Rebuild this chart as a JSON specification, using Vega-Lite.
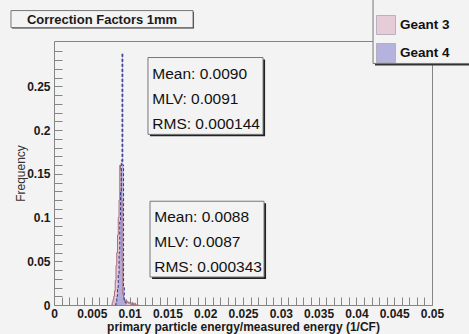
{
  "$schema": "https://vega.github.io/schema/vega-lite/v6.json",
  "width": 378,
  "height": 264,
  "autosize": {"type": "none"},
  "padding": {"left": 54, "top": 41, "right": 37, "bottom": 29},
  "background": "#f3f3f3",
  "config": {
    "font": "Liberation Sans",
    "view": {"stroke": "#858585", "strokeWidth": 1, "fill": "#f3f3f3"},
    "axis": {
      "grid": false,
      "domain": false,
      "ticks": true,
      "tickColor": "#858585",
      "tickWidth": 1,
      "labelFont": "Liberation Sans",
      "labelFontWeight": "bold",
      "labelFontSize": 12,
      "labelColor": "#1a1a1a",
      "labelFlush": false,
      "labelOverlap": false,
      "titleFont": "Liberation Sans",
      "titleColor": "#1a1a1a"
    }
  },
  "datasets": {
    "hist": [
      {"sim": "Geant 3", "lo": 0.0076, "f": 0},
      {"sim": "Geant 3", "lo": 0.0077, "f": 0.003},
      {"sim": "Geant 3", "lo": 0.0078, "f": 0.006},
      {"sim": "Geant 3", "lo": 0.0079, "f": 0.010},
      {"sim": "Geant 3", "lo": 0.0080, "f": 0.016},
      {"sim": "Geant 3", "lo": 0.0081, "f": 0.028},
      {"sim": "Geant 3", "lo": 0.0082, "f": 0.045},
      {"sim": "Geant 3", "lo": 0.0083, "f": 0.060},
      {"sim": "Geant 3", "lo": 0.0084, "f": 0.080},
      {"sim": "Geant 3", "lo": 0.0085, "f": 0.100},
      {"sim": "Geant 3", "lo": 0.0086, "f": 0.120},
      {"sim": "Geant 3", "lo": 0.0087, "f": 0.160},
      {"sim": "Geant 3", "lo": 0.0088, "f": 0.155},
      {"sim": "Geant 3", "lo": 0.0089, "f": 0.120},
      {"sim": "Geant 3", "lo": 0.0090, "f": 0.050},
      {"sim": "Geant 3", "lo": 0.0091, "f": 0.012},
      {"sim": "Geant 3", "lo": 0.0092, "f": 0.006},
      {"sim": "Geant 3", "lo": 0.0093, "f": 0.005},
      {"sim": "Geant 3", "lo": 0.0094, "f": 0.004},
      {"sim": "Geant 3", "lo": 0.0095, "f": 0.006},
      {"sim": "Geant 3", "lo": 0.0096, "f": 0.003},
      {"sim": "Geant 3", "lo": 0.0097, "f": 0.004},
      {"sim": "Geant 3", "lo": 0.0098, "f": 0.002},
      {"sim": "Geant 3", "lo": 0.0099, "f": 0.003},
      {"sim": "Geant 3", "lo": 0.0100, "f": 0.002},
      {"sim": "Geant 3", "lo": 0.0101, "f": 0.002},
      {"sim": "Geant 3", "lo": 0.0102, "f": 0},
      {"sim": "Geant 3", "lo": 0.0103, "f": 0.003},
      {"sim": "Geant 3", "lo": 0.0104, "f": 0},
      {"sim": "Geant 3", "lo": 0.0105, "f": 0.002},
      {"sim": "Geant 3", "lo": 0.0106, "f": 0},
      {"sim": "Geant 3", "lo": 0.0107, "f": 0.002},
      {"sim": "Geant 3", "lo": 0.0108, "f": 0},
      {"sim": "Geant 3", "lo": 0.0109, "f": 0},
      {"sim": "Geant 3", "lo": 0.0110, "f": 0.001},
      {"sim": "Geant 3", "lo": 0.0111, "f": 0},
      {"sim": "Geant 4", "lo": 0.0081, "f": 0},
      {"sim": "Geant 4", "lo": 0.0082, "f": 0.004},
      {"sim": "Geant 4", "lo": 0.0083, "f": 0.010},
      {"sim": "Geant 4", "lo": 0.0084, "f": 0.020},
      {"sim": "Geant 4", "lo": 0.0085, "f": 0.035},
      {"sim": "Geant 4", "lo": 0.0086, "f": 0.060},
      {"sim": "Geant 4", "lo": 0.0087, "f": 0.095},
      {"sim": "Geant 4", "lo": 0.0088, "f": 0.130},
      {"sim": "Geant 4", "lo": 0.0089, "f": 0.165},
      {"sim": "Geant 4", "lo": 0.0090, "f": 0.288},
      {"sim": "Geant 4", "lo": 0.0091, "f": 0.160},
      {"sim": "Geant 4", "lo": 0.0092, "f": 0.020},
      {"sim": "Geant 4", "lo": 0.0093, "f": 0.006},
      {"sim": "Geant 4", "lo": 0.0094, "f": 0.003},
      {"sim": "Geant 4", "lo": 0.0095, "f": 0.002},
      {"sim": "Geant 4", "lo": 0.0096, "f": 0}
    ]
  },
  "layer": [
    {
      "data": {"name": "hist"},
      "transform": [{"filter": "datum.sim === 'Geant 3'"}],
      "mark": {"type": "area", "interpolate": "step-after", "opacity": 0.9},
      "encoding": {
        "x": {
          "field": "lo",
          "type": "quantitative",
          "scale": {"domain": [0, 0.05], "nice": false, "zero": false},
          "axis": {
            "values": [0, 0.001, 0.002, 0.003, 0.004, 0.005, 0.006, 0.007, 0.008, 0.009, 0.01, 0.011, 0.012, 0.013, 0.014, 0.015, 0.016, 0.017, 0.018, 0.019, 0.02, 0.021, 0.022, 0.023, 0.024, 0.025, 0.026, 0.027, 0.028, 0.029, 0.03, 0.031, 0.032, 0.033, 0.034, 0.035, 0.036, 0.037, 0.038, 0.039, 0.04, 0.041, 0.042, 0.043, 0.044, 0.045, 0.046, 0.047, 0.048, 0.049, 0.05],
            "tickCount": 200,
            "labelExpr": "abs(round(datum.value*200) - datum.value*200) < 0.000001 ? format(datum.value, '~g') : ''",
            "labelOverlap": false,
            "tickSize": -8,
            "labelPadding": 11,
            "title": "primary particle energy/measured energy (1/CF)",
            "titleFontSize": 12,
            "titleFontWeight": "bold",
            "titlePadding": 2,
            "encode": {
              "ticks": {
                "update": {
                  "y2": {"signal": "abs(round(datum.value*200) - datum.value*200) < 0.000001 ? -8 : -4"}
                }
              }
            }
          }
        },
        "y": {
          "field": "f",
          "type": "quantitative",
          "stack": null,
          "scale": {"domain": [0, 0.302], "nice": false},
          "axis": {
            "values": [0, 0.01, 0.02, 0.03, 0.04, 0.05, 0.06, 0.07, 0.08, 0.09, 0.1, 0.11, 0.12, 0.13, 0.14, 0.15, 0.16, 0.17, 0.18, 0.19, 0.2, 0.21, 0.22, 0.23, 0.24, 0.25, 0.26, 0.27, 0.28, 0.29],
            "tickCount": 200,
            "labelExpr": "abs(round(datum.value*20) - datum.value*20) < 0.000001 ? format(datum.value, '~g') : ''",
            "labelOverlap": false,
            "tickSize": -8,
            "labelPadding": 12,
            "title": "Frequency",
            "titleFontSize": 12,
            "titleFontWeight": "normal",
            "titleColor": "#333333",
            "titlePadding": -1,
            "encode": {
              "ticks": {
                "update": {
                  "x2": {"signal": "abs(round(datum.value*20) - datum.value*20) < 0.000001 ? 8 : 4"}
                }
              }
            }
          }
        },
        "color": {
          "field": "sim",
          "type": "nominal",
          "scale": {"domain": ["Geant 3", "Geant 4"], "range": ["#e2c3cf", "#a6a2da"]},
          "legend": {
            "title": null,
            "orient": "none",
            "legendX": 322,
            "legendY": -26,
            "padding": 0,
            "symbolType": "square",
            "symbolSize": 361,
            "symbolOpacity": 1,
            "symbolStrokeColor": "#9a90a8",
            "symbolStrokeWidth": 0.8,
            "rowPadding": 4,
            "labelOffset": 4,
            "labelFont": "Liberation Sans",
            "labelFontWeight": "bold",
            "labelFontSize": 13.5,
            "labelColor": "#111111"
          }
        }
      }
    },
    {
      "data": {"name": "hist"},
      "transform": [{"filter": "datum.sim === 'Geant 4'"}],
      "mark": {"type": "area", "interpolate": "step-after", "opacity": 0.8},
      "encoding": {
        "x": {"field": "lo", "type": "quantitative"},
        "y": {"field": "f", "type": "quantitative", "stack": null},
        "color": {"field": "sim", "type": "nominal"}
      }
    },
    {
      "data": {"name": "hist"},
      "transform": [{"filter": "datum.sim === 'Geant 3'"}],
      "mark": {"type": "line", "interpolate": "step-after", "color": "#a8707e", "strokeWidth": 1},
      "encoding": {
        "x": {"field": "lo", "type": "quantitative"},
        "y": {"field": "f", "type": "quantitative"}
      }
    },
    {
      "data": {"name": "hist"},
      "transform": [{"filter": "datum.sim === 'Geant 4'"}],
      "mark": {"type": "line", "interpolate": "step-after", "color": "#34348c", "strokeWidth": 1, "strokeDash": [3, 2]},
      "encoding": {
        "x": {"field": "lo", "type": "quantitative"},
        "y": {"field": "f", "type": "quantitative"}
      }
    },
    {
      "data": {"values": [{}]},
      "mark": {"type": "rect", "color": "#222222"},
      "encoding": {
        "x": {"datum": 0.01270, "type": "quantitative"},
        "x2": {"datum": 0.02792},
        "y": {"datum": 0.2808, "type": "quantitative"},
        "y2": {"datum": 0.1929}
      }
    },
    {
      "data": {"values": [{}]},
      "mark": {"type": "rect", "fill": "#f3f3f3", "stroke": "#777777", "strokeWidth": 1},
      "encoding": {
        "x": {"datum": 0.01243, "type": "quantitative"},
        "x2": {"datum": 0.02765},
        "y": {"datum": 0.2831, "type": "quantitative"},
        "y2": {"datum": 0.1952}
      }
    },
    {
      "data": {"values": [{}]},
      "mark": {"type": "text", "text": ["Mean: 0.0090", "MLV: 0.0091", "RMS: 0.000144"], "align": "left", "baseline": "middle", "lineHeight": 25, "font": "Liberation Sans", "fontSize": 15.5, "color": "#111111"},
      "encoding": {
        "x": {"datum": 0.01300, "type": "quantitative"},
        "y": {"datum": 0.2648, "type": "quantitative"}
      }
    },
    {
      "data": {"values": [{}]},
      "mark": {"type": "rect", "color": "#222222"},
      "encoding": {
        "x": {"datum": 0.01297, "type": "quantitative"},
        "x2": {"datum": 0.02805},
        "y": {"datum": 0.1164, "type": "quantitative"},
        "y2": {"datum": 0.0297}
      }
    },
    {
      "data": {"values": [{}]},
      "mark": {"type": "rect", "fill": "#f3f3f3", "stroke": "#777777", "strokeWidth": 1},
      "encoding": {
        "x": {"datum": 0.01270, "type": "quantitative"},
        "x2": {"datum": 0.02778},
        "y": {"datum": 0.1187, "type": "quantitative"},
        "y2": {"datum": 0.0320}
      }
    },
    {
      "data": {"values": [{}]},
      "mark": {"type": "text", "text": ["Mean: 0.0088", "MLV: 0.0087", "RMS: 0.000343"], "align": "left", "baseline": "middle", "lineHeight": 25, "font": "Liberation Sans", "fontSize": 15.5, "color": "#111111"},
      "encoding": {
        "x": {"datum": 0.01326, "type": "quantitative"},
        "y": {"datum": 0.1005, "type": "quantitative"}
      }
    },
    {
      "data": {"values": [{}]},
      "mark": {"type": "rect", "color": "#333333"},
      "encoding": {
        "x": {"datum": -0.00556, "type": "quantitative"},
        "x2": {"datum": 0.01852},
        "y": {"datum": 0.3356, "type": "quantitative"},
        "y2": {"datum": 0.3162}
      }
    },
    {
      "data": {"values": [{}]},
      "mark": {"type": "rect", "fill": "#f3f3f3", "stroke": "#777777", "strokeWidth": 1},
      "encoding": {
        "x": {"datum": -0.00569, "type": "quantitative"},
        "x2": {"datum": 0.01839},
        "y": {"datum": 0.3368, "type": "quantitative"},
        "y2": {"datum": 0.3174}
      }
    },
    {
      "data": {"values": [{}]},
      "mark": {"type": "text", "text": "Correction Factors 1mm", "align": "center", "baseline": "middle", "font": "Liberation Sans", "fontWeight": "bold", "fontSize": 13, "color": "#1a1a1a"},
      "encoding": {
        "x": {"datum": 0.00635, "type": "quantitative"},
        "y": {"datum": 0.3265, "type": "quantitative"}
      }
    },
    {
      "data": {"values": [{}]},
      "mark": {"type": "rect", "color": "#333333"},
      "encoding": {
        "x": {"datum": 0.04246, "type": "quantitative"},
        "x2": {"datum": 0.06},
        "y": {"datum": 0.40, "type": "quantitative"},
        "y2": {"datum": 0.2740}
      }
    },
    {
      "data": {"values": [{}]},
      "mark": {"type": "rect", "fill": "#f3f3f3", "stroke": "#777777", "strokeWidth": 1},
      "encoding": {
        "x": {"datum": 0.04220, "type": "quantitative"},
        "x2": {"datum": 0.06},
        "y": {"datum": 0.40, "type": "quantitative"},
        "y2": {"datum": 0.2763}
      }
    }
  ]
}
